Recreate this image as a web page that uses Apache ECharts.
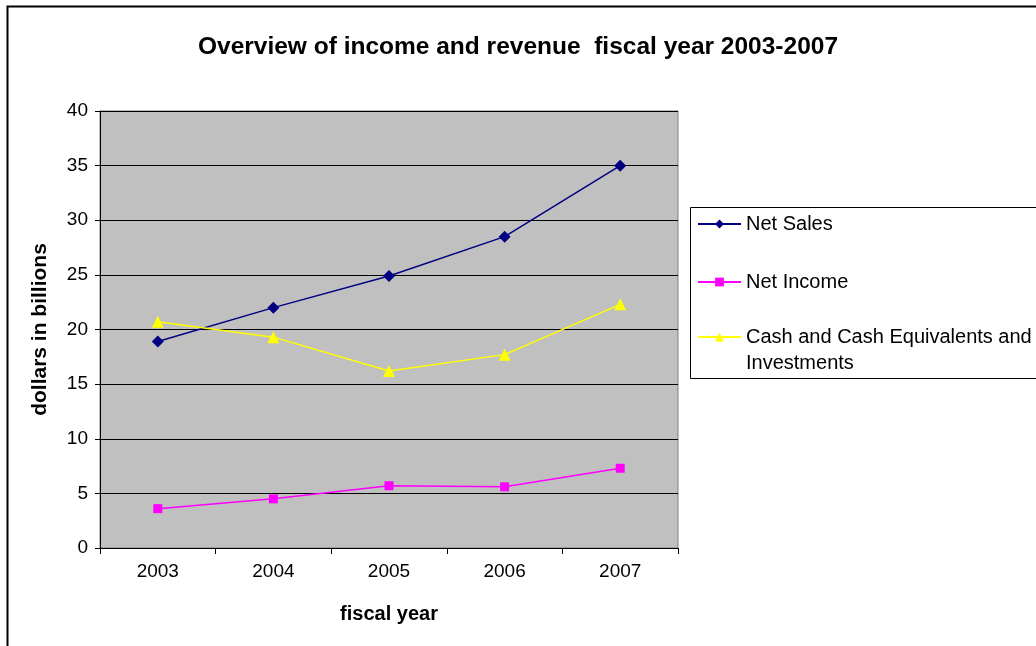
<!DOCTYPE html>
<html>
<head>
<meta charset="utf-8">
<script src="https://cdn.jsdelivr.net/npm/echarts@6/dist/echarts.min.js"></script>
<style>html,body{margin:0;padding:0;background:#fff;}#c{width:1036px;height:646px;}</style>
</head>
<body>
<div id="c"></div>
<script>
var years = ['2003', '2004', '2005', '2006', '2007'];
var netSales = [18.9, 22.0, 24.9, 28.5, 35.0];
var netIncome = [3.6, 4.5, 5.7, 5.6, 7.3];
var cashInvest = [20.7, 19.3, 16.2, 17.7, 22.3];
var yTicks = [0, 5, 10, 15, 20, 25, 30, 35, 40];

var FONT = '"Liberation Sans", Arial, sans-serif';
var chart = echarts.init(document.getElementById('c'));
var legendText = {color: '#000', fontSize: 20, fontFamily: FONT};
chart.setOption({
  animation: false,
  backgroundColor: '#fff',
  title: {
    text: 'Overview of income and revenue  fiscal year 2003-2007',
    left: 'center', top: 30,
    textStyle: {fontFamily: FONT, fontWeight: 'bold', fontSize: 24.5, color: '#000'}
  },
  graphic: [
    {type: 'rect', shape: {x: 7.5, y: 6.5, width: 1100, height: 700}, style: {fill: 'none', stroke: '#000', lineWidth: 2}, silent: true, z: 100},
    {type: 'rect', shape: {x: 690.5, y: 207.5, width: 400, height: 171}, style: {fill: 'none', stroke: '#000', lineWidth: 1}, silent: true}
  ],
  legend: [
    {data: ['Net Sales'], left: 697, top: 214, orient: 'vertical', itemWidth: 43, itemHeight: 11, textStyle: legendText, padding: 0},
    {data: ['Net Income'], left: 697, top: 272, orient: 'vertical', itemWidth: 43, itemHeight: 11, textStyle: legendText, padding: 0},
    {data: ['Cash and Cash Equivalents and Investments'], left: 697, top: 298, orient: 'vertical', itemWidth: 43, itemHeight: 11, padding: 0,
     formatter: function () { return ' \nCash and Cash Equivalents and\nInvestments'; },
     textStyle: {color: '#000', fontSize: 20, fontFamily: FONT, lineHeight: 26}}
  ],
  grid: {left: 100, top: 111, width: 578, height: 437, show: true, backgroundColor: '#c0c0c0', borderColor: '#808080', borderWidth: 1},
  xAxis: {
    type: 'category', data: years, boundaryGap: true,
    name: 'fiscal year', nameLocation: 'middle', nameGap: 56,
    nameTextStyle: {fontFamily: FONT, fontWeight: 'bold', fontSize: 20, color: '#000'},
    axisLine: {lineStyle: {color: '#000', width: 1}},
    axisTick: {show: true, length: 6, inside: false, lineStyle: {color: '#000'}},
    axisLabel: {fontFamily: FONT, fontSize: 19, color: '#000', margin: 14},
    splitLine: {show: false}
  },
  yAxis: {
    type: 'value', min: 0, max: 40, interval: 5,
    name: 'dollars in billions', nameLocation: 'middle', nameRotate: 90, nameGap: 49,
    nameTextStyle: {fontFamily: FONT, fontWeight: 'bold', fontSize: 21, color: '#000'},
    axisLine: {show: true, lineStyle: {color: '#000', width: 1}},
    axisTick: {show: true, length: 5, inside: false, lineStyle: {color: '#000'}},
    axisLabel: {fontFamily: FONT, fontSize: 19, color: '#000', margin: 12,
      formatter: function (v) { return yTicks.indexOf(v) >= 0 ? String(v) : ''; }},
    splitLine: {show: true, lineStyle: {color: '#000', width: 1}}
  },
  series: [
    {name: 'Net Sales', type: 'line', data: netSales, symbol: 'diamond', symbolSize: 12,
     lineStyle: {color: '#000080', width: 1.5}, itemStyle: {color: '#000080'}},
    {name: 'Net Income', type: 'line', data: netIncome, symbol: 'rect', symbolSize: 9,
     lineStyle: {color: '#ff00ff', width: 1.5}, itemStyle: {color: '#ff00ff'}},
    {name: 'Cash and Cash Equivalents and Investments', type: 'line', data: cashInvest, symbol: 'triangle', symbolSize: 12,
     lineStyle: {color: '#ffff00', width: 1.5}, itemStyle: {color: '#ffff00'}}
  ]
});
</script>
</body>
</html>
